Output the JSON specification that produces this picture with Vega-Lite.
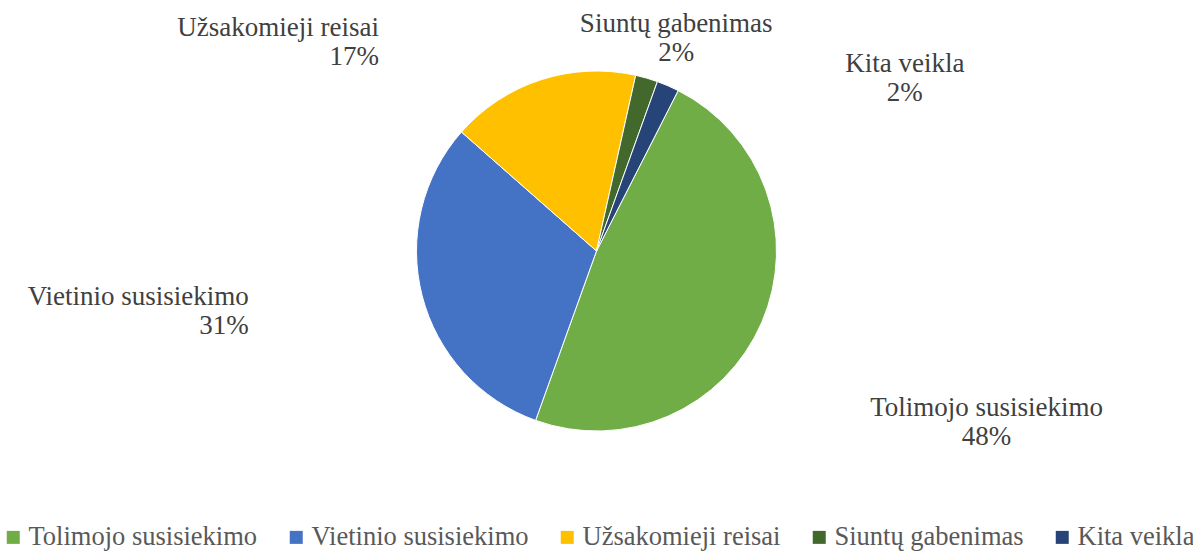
{
  "$schema": "https://vega.github.io/schema/vega-lite/v6.json",
  "autosize": {"type": "fit", "contains": "padding"},
  "width": 1193,
  "height": 551,
  "padding": {"left": 0, "right": 0, "top": 0, "bottom": 0},
  "background": "white",
  "data": {
    "values": [
      {"cat": "Tolimojo susisiekimo", "share": 48, "n": 1},
      {"cat": "Vietinio susisiekimo", "share": 31, "n": 2},
      {"cat": "Užsakomieji reisai", "share": 17, "n": 3},
      {"cat": "Siuntų gabenimas", "share": 2, "n": 4},
      {"cat": "Kita veikla", "share": 2, "n": 5}
    ]
  },
  "transform": [
    {"stack": "share", "groupby": [], "sort": [{"field": "n", "order": "ascending"}], "as": ["t0", "t1"]},
    {"calculate": "(datum.t0 + datum.t1) / 2", "as": "tm"},
    {"calculate": "[datum.cat, datum.share + '%']", "as": "label"}
  ],
  "layer": [
    {
      "mark": {"type": "arc", "outerRadius": 180, "stroke": "#ffffff", "strokeWidth": 1},
      "encoding": {
        "theta": {"field": "t0", "type": "quantitative", "stack": false, "scale": {"domain": [0, 100], "range": [0.471, 6.754]}},
        "theta2": {"field": "t1"},
        "color": {
          "field": "cat",
          "type": "nominal",
          "scale": {
            "domain": ["Tolimojo susisiekimo", "Vietinio susisiekimo", "Užsakomieji reisai", "Siuntų gabenimas", "Kita veikla"],
            "range": ["#70AD47", "#4472C4", "#FFC000", "#43682B", "#264478"]
          },
          "legend": {
            "orient": "bottom",
            "direction": "horizontal",
            "title": null,
            "symbolType": "square",
            "symbolSize": 169,
            "symbolStrokeWidth": 0,
            "labelFont": "Liberation Serif",
            "labelFontSize": 26.5,
            "labelColor": "#595959",
            "labelLimit": 400,
            "labelOffset": 2,
            "columnPadding": 25,
            "offset": 22
          }
        }
      }
    },
    {
      "transform": [{"filter": "datum.n == 3"}],
      "mark": {"type": "text", "radius": 218, "align": "right", "baseline": "middle", "dx": -150, "dy": -16, "font": "Liberation Serif", "fontSize": 27, "color": "#404040", "lineHeight": 29},
      "encoding": {"theta": {"field": "tm", "type": "quantitative", "stack": false}, "text": {"field": "label"}}
    },
    {
      "transform": [{"filter": "datum.n == 2"}],
      "mark": {"type": "text", "radius": 359, "align": "right", "baseline": "middle", "dy": -43, "font": "Liberation Serif", "fontSize": 27, "color": "#404040", "lineHeight": 29},
      "encoding": {"theta": {"field": "tm", "type": "quantitative", "stack": false}, "text": {"field": "label"}}
    },
    {
      "transform": [{"filter": "datum.n == 4"}],
      "mark": {"type": "text", "radius": 218, "align": "center", "baseline": "middle", "dx": 19, "dy": -18, "font": "Liberation Serif", "fontSize": 27, "color": "#404040", "lineHeight": 29},
      "encoding": {"theta": {"field": "tm", "type": "quantitative", "stack": false}, "text": {"field": "label"}}
    },
    {
      "transform": [{"filter": "datum.n == 1"}],
      "mark": {"type": "text", "radius": 425, "align": "center", "baseline": "middle", "dy": -12, "font": "Liberation Serif", "fontSize": 27, "color": "#404040", "lineHeight": 29},
      "encoding": {"theta": {"field": "tm", "type": "quantitative", "stack": false}, "text": {"field": "label"}}
    },
    {
      "transform": [{"filter": "datum.n == 5"}],
      "mark": {"type": "text", "radius": 200, "align": "center", "baseline": "middle", "dx": 229, "dy": -3, "font": "Liberation Serif", "fontSize": 27, "color": "#404040", "lineHeight": 29},
      "encoding": {"theta": {"field": "tm", "type": "quantitative", "stack": false}, "text": {"field": "label"}}
    }
  ],
  "config": {"view": {"stroke": null}}
}
